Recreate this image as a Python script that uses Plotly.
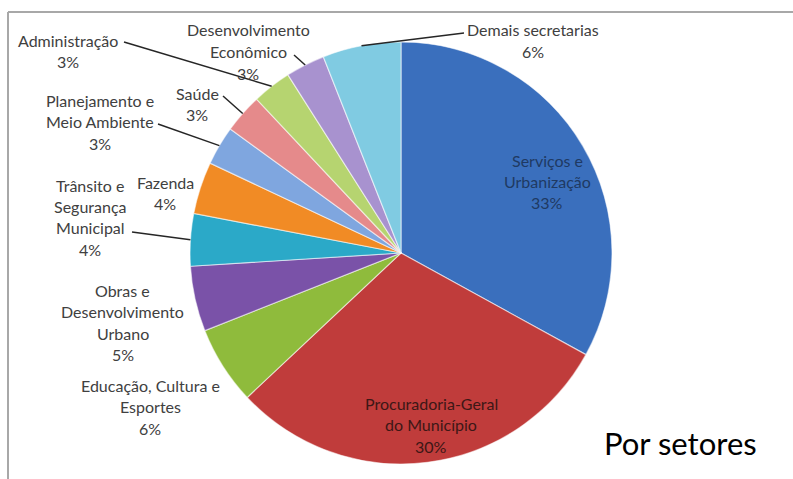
import math
import plotly.graph_objects as go

# data (clockwise from 12 o'clock)
sectors = [
    "Serviços e Urbanização",
    "Procuradoria-Geral do Município",
    "Educação, Cultura e Esportes",
    "Obras e Desenvolvimento Urbano",
    "Trânsito e Segurança Municipal",
    "Fazenda",
    "Planejamento e Meio Ambiente",
    "Saúde",
    "Administração",
    "Desenvolvimento Econômico",
    "Demais secretarias",
]
values = [33, 30, 6, 5, 4, 4, 3, 3, 3, 3, 6]
label_lines = [
    ["Serviços e", "Urbanização"],
    ["Procuradoria-Geral", "do Município"],
    ["Educação, Cultura e", "Esportes"],
    ["Obras e", "Desenvolvimento", "Urbano"],
    ["Trânsito e", "Segurança", "Municipal"],
    ["Fazenda"],
    ["Planejamento e", "Meio Ambiente"],
    ["Saúde"],
    ["Administração"],
    ["Desenvolvimento", "Econômico"],
    ["Demais secretarias"],
]
colors = [
    "#3a6fbd", "#c03c3b", "#8fbb3c", "#7a52a8", "#2ba9c8", "#f18b25",
    "#7fa6df", "#e58a8b", "#b6d470", "#a892cf", "#80cbe2",
]

# layout (pixels)
W, H = 793, 479
cx, cy, R = 401, 253, 211
LINE_H = 21.5
# centre of the first text line of each label
label_pos = [
    (547, 160), (431, 403), (150, 385), (123, 290), (90, 185), (165, 182),
    (100, 100), (197, 93), (68, 40), (248, 30), (533, 30),
]
text_colors = ["#1f3a63", "#3d1716"] + ["#404040"] * 9
# where leader lines leave the label text
leader_start = {
    4: (132, 232),
    6: (158, 124),
    7: (223, 96),
    8: (124, 42),
    9: (294, 55),
    10: (464, 33),
}


def px(x, y):
    return x / W, 1 - y / H


fig = go.Figure(go.Pie(
    values=values,
    labels=sectors,
    sort=False,
    direction="clockwise",
    rotation=0,
    marker=dict(colors=colors, line=dict(color="rgba(255,255,255,0.55)", width=1.2)),
    textinfo="none",
    hoverinfo="label+percent",
    showlegend=False,
    domain=dict(x=[(cx - R) / W, (cx + R) / W], y=[1 - (cy + R) / H, 1 - (cy - R) / H]),
))

total = sum(values)
annotations = []
shapes = []
cum = 0
for i, v in enumerate(values):
    lines = label_lines[i] + [f"{round(v / total * 100)}%"]
    x0, y0 = label_pos[i]
    for k, t in enumerate(lines):
        ax, ay = px(x0, y0 + k * LINE_H)
        annotations.append(dict(
            x=ax, y=ay, xref="paper", yref="paper", text=t, showarrow=False,
            xanchor="center", yanchor="middle",
            font=dict(family="Lato", size=16, color=text_colors[i]),
        ))
    if i in leader_start:
        mid = (cum + v / 2) / total * 2 * math.pi
        ex = cx + R * math.sin(mid)
        ey = cy - R * math.cos(mid)
        sx, sy = leader_start[i]
        a0, b0 = px(sx, sy)
        a1, b1 = px(ex, ey)
        shapes.append(dict(type="line", xref="paper", yref="paper",
                           x0=a0, y0=b0, x1=a1, y1=b1,
                           line=dict(color="#262626", width=1.5)))
    cum += v

# title
tx, ty = px(680, 443)
annotations.append(dict(
    x=tx, y=ty, xref="paper", yref="paper", text="Por setores", showarrow=False,
    xanchor="center", yanchor="middle",
    font=dict(family="Lato", size=31, color="#000000"),
))

# frame of the cropped picture
for (x0, y0, x1, y1) in [(8, 12, W, 12), (8, 12, 8, H)]:
    a0, b0 = px(x0, y0)
    a1, b1 = px(x1, y1)
    shapes.append(dict(type="line", xref="paper", yref="paper",
                       x0=a0, y0=b0, x1=a1, y1=b1,
                       line=dict(color="#a8a8a8", width=2)))

fig.update_layout(
    width=W, height=H,
    margin=dict(l=0, r=0, t=0, b=0),
    paper_bgcolor="white",
    plot_bgcolor="white",
    annotations=annotations,
    shapes=shapes,
)

# drop the browser's default 8px body margin so the figure sits at (0, 0)
fig.write_html("out.html", config={"displayModeBar": False},
               post_script="document.body.style.margin='0';")
